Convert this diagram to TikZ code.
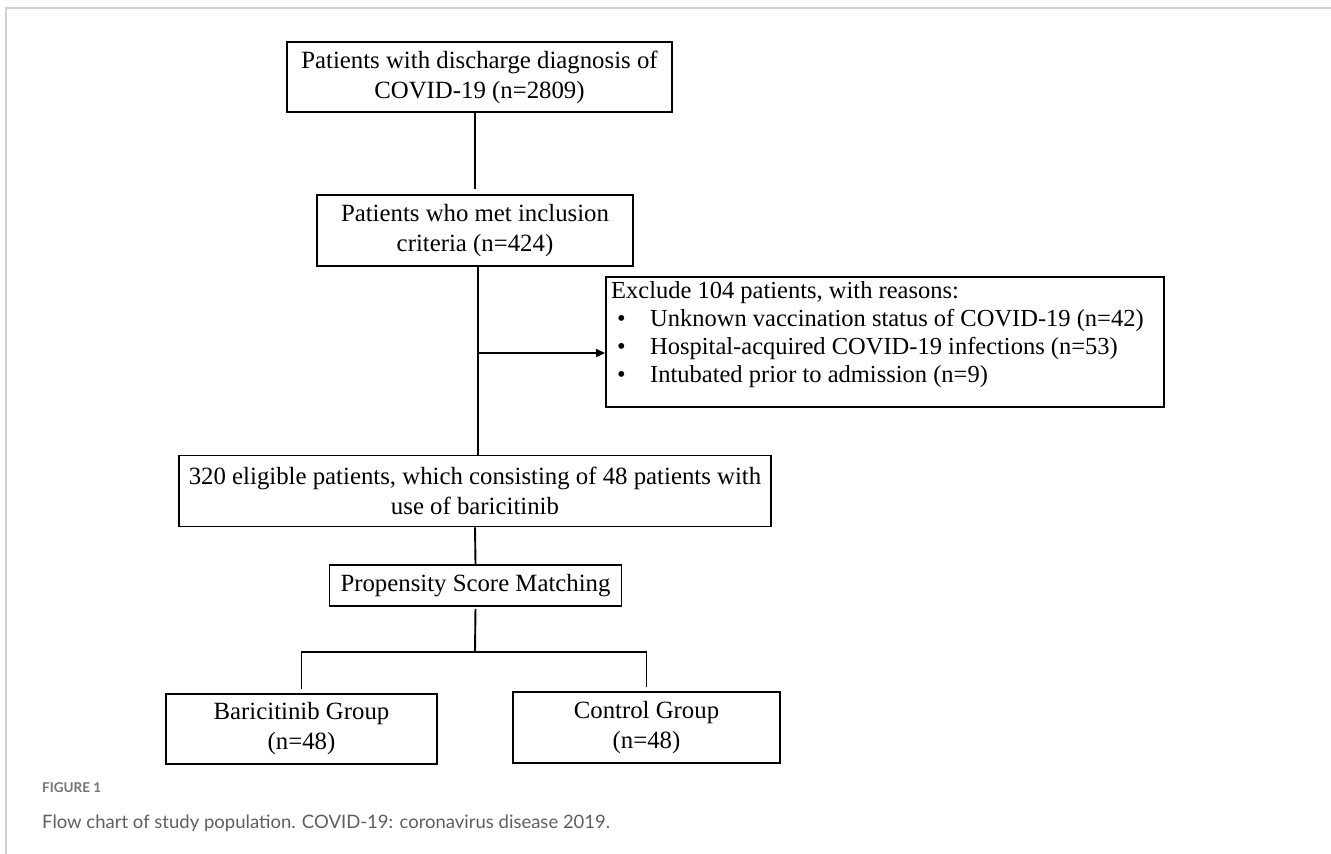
\documentclass[tikz,border=0pt]{standalone}
\usepackage{fontspec}
\setmainfont{Liberation Serif}
\newfontfamily\capfont{Lato}
\usetikzlibrary{arrows.meta}
\definecolor{framegray}{HTML}{CFCFCF}
\definecolor{capgray}{HTML}{5F5F5F}
\definecolor{figgray}{HTML}{757575}
\begin{document}
\begin{tikzpicture}[x=1pt,y=-1pt,
  box/.style={draw=black, line width=1.9pt, inner sep=0pt, align=center,
    font=\fontsize{24.8}{30}\selectfont},
  txt/.style={inner sep=0pt, anchor=base west, font=\fontsize{24.5}{30}\selectfont},
  conn/.style={draw=black, line width=1.9pt},
  captxt/.style={inner sep=0pt, anchor=base west}
  ]
\useasboundingbox (0,0) rectangle (1331,854);
\fill[white] (0,0) rectangle (1331,854);
\draw[framegray, line width=2pt] (6,854) -- (6,7.5) -- (1331,7.5);

% boxes
\node[box, minimum width=385pt, minimum height=70pt] (b1) at (479.5,77)
  {Patients with discharge diagnosis of\\COVID-19 (n=2809)};
\node[box, minimum width=316pt, minimum height=71pt] (b2) at (475,230.5)
  {Patients who met inclusion\\criteria (n=424)};
\node[box, minimum width=558pt, minimum height=130pt] (ex) at (885,342) {};
\node[txt] (ex0) at (611,298) {Exclude 104 patients, with reasons:};
\node[txt] (ex1) at (617,326) {\makebox[33pt][l]{•}Unknown vaccination status of COVID-19 (n=42)};
\node[txt] (ex2) at (617,354) {\makebox[33pt][l]{•}Hospital-acquired COVID-19 infections (n=53)};
\node[txt] (ex3) at (617,382) {\makebox[33pt][l]{•}Intubated prior to admission (n=9)};
\node[box, minimum width=592pt, minimum height=71pt] (b3) at (475,491)
  {320 eligible patients, which consisting of 48 patients with\\use of baricitinib};
\node[box, minimum width=292pt, minimum height=41pt] (psm) at (475.5,585.5)
  {Propensity Score Matching};
\node[box, minimum width=271pt, minimum height=70pt] (bari) at (301.5,729)
  {Baricitinib Group\\(n=48)};
\node[box, minimum width=267pt, minimum height=71pt] (ctrl) at (646.5,727.5)
  {Control Group\\(n=48)};

% connectors
\coordinate (tr) at (478,353);
\coordinate (split) at (475,651.7);
\draw[conn, shorten >=5pt] (b2.north |- b1.south) -- (b2.north);
\draw[conn] (b2.south -| tr) -- (b3.north -| tr);
\draw[conn, -{Triangle[length=9pt,width=8pt]}] (tr) -- (tr -| ex.west);
\draw[conn] (b3.south) -- (psm.north);
\draw[conn, shorten <=2pt] (psm.south) -- (split);
\draw[conn, shorten <=4pt, shorten >=4pt] (bari.north) -- (bari.north |- split)
  -- (ctrl.north |- split) -- (ctrl.north);

% caption
\node[captxt, font=\capfont\bfseries\fontsize{13.5}{16}\selectfont, text=figgray] (fig) at (42,792) {FIGURE 1};
\node[captxt, font=\capfont\fontsize{18.5}{22}\selectfont, text=capgray] (cap) at (42,828)
  {Flow chart of study population. COVID-19: coronavirus disease 2019.};
\end{tikzpicture}
\end{document}
